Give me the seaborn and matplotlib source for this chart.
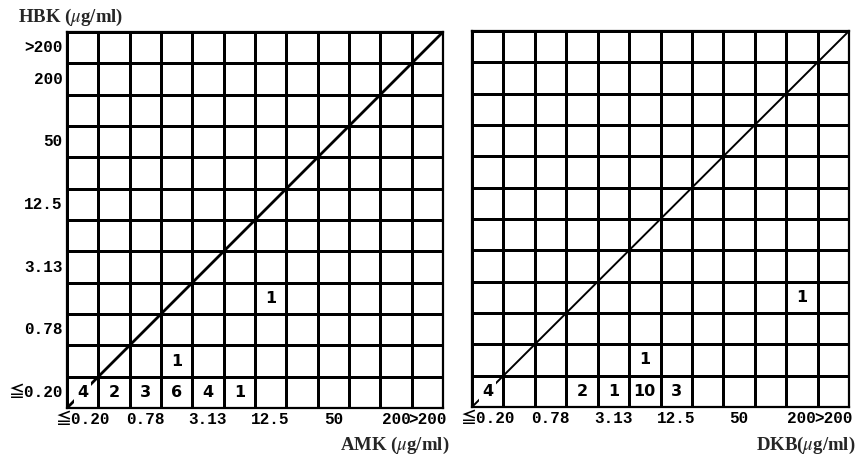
import numpy as np
import pandas as pd
import matplotlib
matplotlib.use("Agg")
import matplotlib.pyplot as plt
from matplotlib.colors import ListedColormap
import seaborn as sns

# MIC dilution levels (μg/ml), shared by both axes of each panel
levels = ["≦0.20", "0.39", "0.78", "1.56", "3.13", "6.25",
          "12.5", "25", "50", "100", "200", ">200"]
tick_labels = ["≦0.20", "", "0.78", "", "3.13", "", "12.5", "", "50", "", "200", ">200"]

# AMK vs HBK: number of strains per MIC pair
amk_mic = ["≦0.20", "0.39", "0.78", "1.56", "3.13", "6.25", "1.56", "12.5"]
amk_hbk_mic = ["≦0.20", "≦0.20", "≦0.20", "≦0.20", "≦0.20", "≦0.20", "0.39", "1.56"]
amk_counts = [4, 2, 3, 6, 4, 1, 1, 1]

# DKB vs HBK: number of strains per MIC pair
dkb_mic = ["≦0.20", "1.56", "3.13", "6.25", "12.5", "6.25", "200"]
dkb_hbk_mic = ["≦0.20", "≦0.20", "≦0.20", "≦0.20", "≦0.20", "0.39", "1.56"]
dkb_counts = [4, 2, 1, 10, 3, 1, 1]

sns.set_theme(style="white")
plt.rcParams["font.family"] = ["DejaVu Sans", "Noto Sans CJK JP"]
plt.rcParams["mathtext.fontset"] = "stix"

TICK_FONT = ["Liberation Mono", "Noto Sans CJK JP"]
LABEL_FONT = ["Liberation Serif", "DejaVu Serif"]


def count_table(x, y, n):
    df = pd.DataFrame({"x": x, "y": y, "n": n})
    tab = df.pivot_table(index="y", columns="x", values="n", aggfunc="sum")
    tab = tab.reindex(index=levels[::-1], columns=levels).fillna(0).astype(int)
    return tab


def draw_panel(ax, x, y, n, diag_lw, show_y):
    tab = count_table(x, y, n)
    annot = np.where(tab.values > 0, tab.values.astype(str), "")
    sns.heatmap(tab, ax=ax, cmap=ListedColormap(["white"]), cbar=False,
                annot=annot, fmt="", linewidths=0.9, linecolor="black",
                annot_kws=dict(fontsize=11.5, fontweight="bold", color="black",
                               family=["DejaVu Sans"]))
    for t in ax.texts:
        t.set_bbox(dict(facecolor="white", edgecolor="none", pad=2.2))
        t.set_zorder(4)

    k = len(levels)
    # line of equal MIC
    ax.plot([0, k], [k, 0], color="black", lw=diag_lw, zorder=3,
            solid_capstyle="butt")
    ax.set_xlim(0, k)
    ax.set_ylim(k, 0)

    ax.set_xticks(np.arange(k) + 0.5)
    ax.set_xticklabels(tick_labels, rotation=0, fontsize=11.5, fontweight="bold",
                       family=TICK_FONT, color="black")
    if show_y:
        ax.set_yticks(np.arange(k) + 0.5)
        ax.set_yticklabels(tick_labels[::-1], rotation=0, fontsize=11.5,
                           fontweight="bold", family=TICK_FONT, color="black")
    else:
        ax.set_yticks([])
    ax.tick_params(axis="both", length=0, pad=3)
    ax.set_xlabel("")
    ax.set_ylabel("")
    for s in ax.spines.values():
        s.set_visible(True)
        s.set_color("black")
        s.set_linewidth(1.6)


fig = plt.figure(figsize=(8.6, 4.62), dpi=100)
ax1 = fig.add_axes([67 / 860, 54 / 462, 376 / 860, 376 / 462])
ax2 = fig.add_axes([472 / 860, 55 / 462, 377 / 860, 376 / 462])

draw_panel(ax1, amk_mic, amk_hbk_mic, amk_counts, 2.0, True)
draw_panel(ax2, dkb_mic, dkb_hbk_mic, dkb_counts, 1.4, False)

fig.text(18 / 860, 1 - 17 / 462, r"HBK ($\mu$g/ml)", fontsize=13.5, fontweight="bold",
         family=LABEL_FONT, ha="left", va="center")
fig.text(449 / 860, 1 - 445 / 462, r"AMK ($\mu$g/ml)", fontsize=13.5, fontweight="bold",
         family=LABEL_FONT, ha="right", va="center")
fig.text(856 / 860, 1 - 445 / 462, r"DKB($\mu$g/ml)", fontsize=13.5, fontweight="bold",
         family=LABEL_FONT, ha="right", va="center")

fig.savefig("out.png", dpi=100, facecolor="white")
